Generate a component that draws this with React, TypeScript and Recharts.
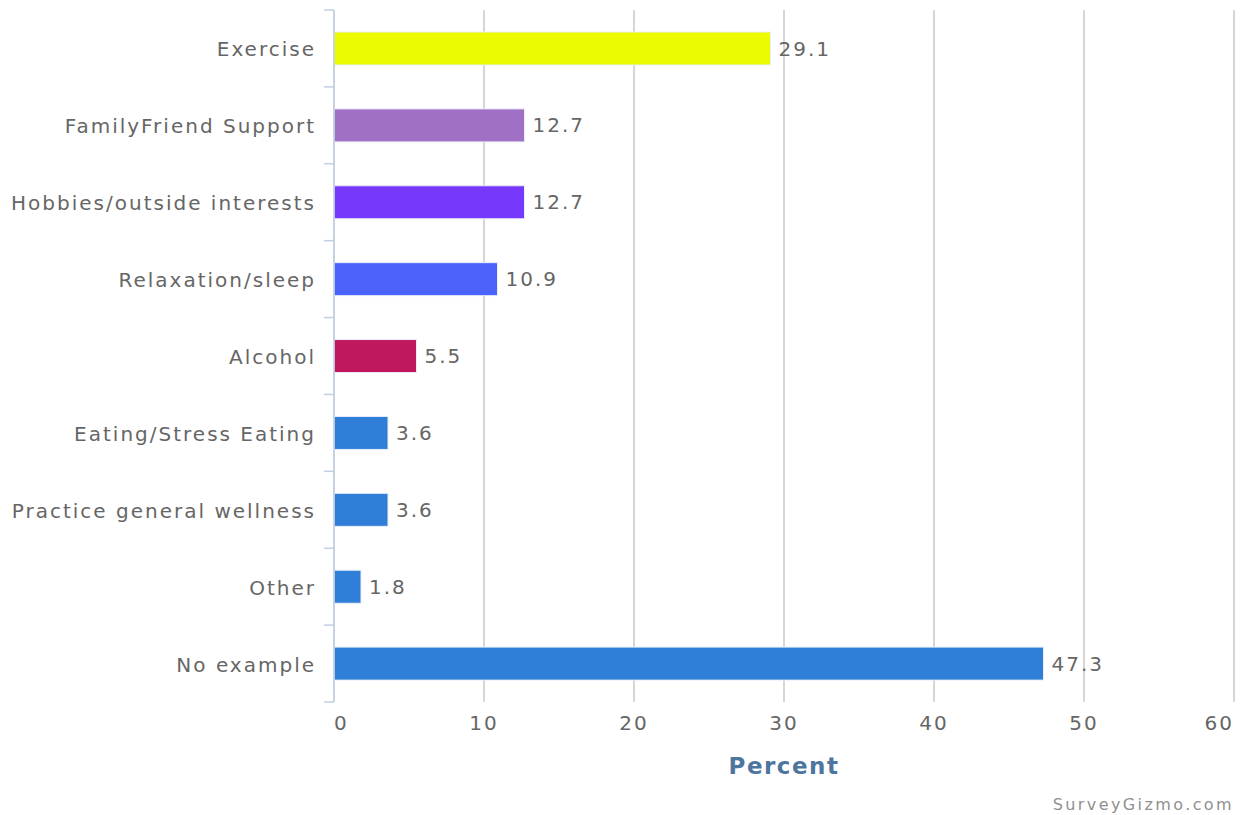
import React from 'react';
import { BarChart, Bar, XAxis, YAxis, CartesianGrid, Cell, LabelList } from 'recharts';

const categories = [
  'Exercise',
  'FamilyFriend Support',
  'Hobbies/outside interests',
  'Relaxation/sleep',
  'Alcohol',
  'Eating/Stress Eating',
  'Practice general wellness',
  'Other',
  'No example',
];
const percents = [29.1, 12.7, 12.7, 10.9, 5.5, 3.6, 3.6, 1.8, 47.3];
const barColors = [
  '#edfb00',
  '#a070c4',
  '#7639fb',
  '#4b63fb',
  '#c0175f',
  '#2f7ed8',
  '#2f7ed8',
  '#2f7ed8',
  '#2f7ed8',
];
const xTicks = [0, 10, 20, 30, 40, 50, 60];

const data = categories.map((name, i) => ({ name, value: percents[i] }));

const FONT = '"DejaVu Sans", Verdana, sans-serif';
const TEXT = '#666666';
const AXIS = '#c0d0e0';

// category label + boundary tick marks (ticks sit between bars, not at centres)
function CategoryTick(props: any) {
  const { x, y, payload, index, visibleTicksCount } = props;
  const half = payload && payload.offset ? payload.offset : 0;
  const x0 = x + 8;
  const x1 = x + 18;
  return (
    <g>
      <line x1={x0} x2={x1} y1={y - half} y2={y - half} stroke={AXIS} strokeWidth={1.5} />
      {index === visibleTicksCount - 1 && (
        <line x1={x0} x2={x1} y1={y + half} y2={y + half} stroke={AXIS} strokeWidth={1.5} />
      )}
      <text
        x={x}
        y={y + 1}
        textAnchor="end"
        dominantBaseline="central"
        fill={TEXT}
        fontSize={20}
        letterSpacing={2}
        fontFamily={FONT}
      >
        {payload.value}
      </text>
    </g>
  );
}

function ValueTick(props: any) {
  const { x, y, payload, index, visibleTicksCount } = props;
  let anchor: 'start' | 'middle' | 'end' = 'middle';
  if (index === 0) anchor = 'start';
  if (index === visibleTicksCount - 1) anchor = 'end';
  return (
    <text
      x={x}
      y={y + 20}
      textAnchor={anchor}
      fill={TEXT}
      fontSize={20}
      letterSpacing={2}
      fontFamily={FONT}
    >
      {payload.value}
    </text>
  );
}

export default function App() {
  return (
    <div style={{ position: 'absolute', left: 0, top: 0, width: 1244, height: 815, background: '#fff' }}>
      <BarChart
        width={1244}
        height={815}
        data={data}
        layout="vertical"
        margin={{ top: 10, right: 10, bottom: 37, left: 0 }}
      >
        <CartesianGrid horizontal={false} stroke="#c8c8c8" strokeWidth={1.5} />
        <XAxis
          type="number"
          domain={[0, 60]}
          ticks={xTicks}
          axisLine={false}
          tickLine={false}
          tick={<ValueTick />}
          height={76}
          label={{
            value: 'Percent',
            position: 'insideBottom',
            offset: 4,
            fill: '#4d759e',
            fontSize: 23,
            fontWeight: 'bold',
            letterSpacing: 1.5,
            fontFamily: FONT,
          }}
        />
        <YAxis
          type="category"
          dataKey="name"
          width={334}
          axisLine={{ stroke: AXIS, strokeWidth: 1.5 }}
          tickLine={false}
          tickSize={10}
          tickMargin={8}
          interval={0}
          tick={<CategoryTick />}
        />
        <Bar dataKey="value" barSize={33} stroke="#e8eef8" strokeWidth={1} isAnimationActive={false}>
          {data.map((d, i) => (
            <Cell key={d.name} fill={barColors[i]} />
          ))}
          <LabelList
            dataKey="value"
            position="right"
            offset={8}
            fill={TEXT}
            fontSize={20}
            letterSpacing={2}
            fontFamily={FONT}
          />
        </Bar>
      </BarChart>
      <div
        style={{
          position: 'absolute',
          right: 10,
          top: 795,
          fontFamily: FONT,
          fontSize: 16,
          letterSpacing: 2.4,
          color: '#909090',
        }}
      >
        SurveyGizmo.com
      </div>
    </div>
  );
}
